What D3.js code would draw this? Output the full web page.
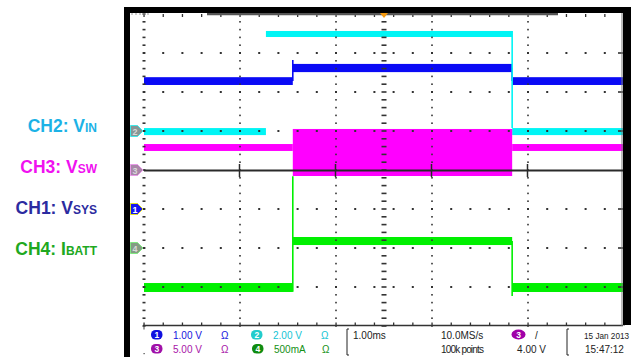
<!DOCTYPE html>
<html><head><meta charset="utf-8">
<script src="https://cdn.jsdelivr.net/npm/d3@7"></script>
<style>html,body{margin:0;padding:0;background:#fff;overflow:hidden}</style>
</head><body>
<svg id="c" width="631" height="357"></svg>
<script>
// ---------------- DATA ----------------
const channelIds = ["1", "2", "3", "4"];
const channelLabels = [["CH1: V", "SYS"], ["CH2: V", "IN"], ["CH3: V", "SW"], ["CH4: I", "BATT"]];
const scalePerDiv = [1.0, 2.0, 5.0, 0.5];      // V/div (CH4: A/div)
const positionDiv = [-1, 1, 0, -2];            // ground marker position in divisions
const scaleText = ["1.00 V", "2.00 V", "5.00 V", "500mA"];
const timeMs = [0, 10];                        // 1.00 ms/div, 10 divisions
// envelope segments: [tStart ms, tEnd ms, min, max]
const ch1Segments = [[0, 3.10, 3.18, 3.38], [3.10, 7.67, 3.51, 3.72], [7.67, 10, 3.18, 3.38]];
const ch2Segments = [[0, 2.54, -0.21, 0.15], [2.54, 7.67, 4.82, 5.13], [7.67, 10, -0.21, 0.15]];
const ch3Segments = [[0, 3.10, 2.44, 3.33], [3.10, 7.67, -0.77, 5.26], [7.67, 10, 2.44, 3.33]];
const ch4Segments = [[0, 3.10, -0.564, -0.449], [3.10, 7.67, 0.038, 0.141], [7.67, 10, -0.564, -0.449]];
// transition edges: [t ms, from, to]
const ch1Edges = [[3.10, 3.28, 3.82], [7.67, 3.62, 3.28]];
const ch2Edges = [[7.67, 5.13, 0.15]];
const ch3Edges = [];
const ch4Edges = [[3.10, -0.56, 0.92], [7.67, 0.09, -0.615]];
const timebaseText = "1.00ms";
const sampleRateText = "10.0MS/s";
const recordText = "100k points";
const triggerLevelText = "4.00 V";
const dateText = "15 Jan 2013";
const timeText = "15:47:12";

// ---------------- STYLE ----------------
const traceColors = ["#0a0af5", "#00f5f5", "#ff00ff", "#00f000"];
const labelColors = ["#2b2ba0", "#1cb2e6", "#f010f0", "#20a820"];
const infoColors = ["#1414dd", "#12c4d4", "#a814a8", "#149014"];
const badgeColors = ["#1010e0", "#22cccc", "#a010a8", "#108c10"];
const markerFill = ["#1616f0", "#869696", "#a886a8", "#849c84"];
const markerStroke = ["#e0e020", "#40e8e8", "#e898e8", "#80e880"];

const svg = d3.select("#c");
const x = d3.scaleLinear().domain(timeMs).range([144, 624]);
const y = d3.scaleLinear().domain([-4, 4]).range([326, 14]);
const yc = (i, v) => y(v / scalePerDiv[i] + positionDiv[i]);

// ---------------- TRACES ----------------
const segs = [ch1Segments, ch2Segments, ch3Segments, ch4Segments];
const edges = [ch1Edges, ch2Edges, ch3Edges, ch4Edges];
const traceG = svg.append("g");
[0, 1, 2, 3].forEach(i => {
  const g = traceG.append("g");
  g.selectAll("rect").data(segs[i]).join("rect")
    .attr("x", d => x(d[0])).attr("width", d => x(d[1]) - x(d[0]))
    .attr("y", d => yc(i, d[3])).attr("height", d => yc(i, d[2]) - yc(i, d[3]))
    .attr("fill", traceColors[i]);
  g.selectAll("line").data(edges[i]).join("line")
    .attr("x1", d => x(d[0])).attr("x2", d => x(d[0]))
    .attr("y1", d => yc(i, d[1])).attr("y2", d => yc(i, d[2]))
    .attr("stroke", traceColors[i]).attr("stroke-width", 1.6);
});

// ---------------- GRATICULE ----------------
const grid = svg.append("g").attr("fill", "#333");
const minorT = d3.range(0, 10.001, 0.4);
const minorD = d3.range(-4, 4.001, 0.2);
[-3, -2, -1, 1, 2, 3].forEach(r => {
  grid.selectAll(null).data(minorT).join("rect")
    .attr("x", t => x(t) - 1).attr("y", y(r) - 1).attr("width", 2).attr("height", 2);
});
[0, 2, 4, 6, 8].forEach(c => {
  grid.selectAll(null).data(minorD).join("rect")
    .attr("x", x(c) - (c === 0 ? 1.5 : 0.8)).attr("y", d => y(d) - 0.8)
    .attr("width", c === 0 ? 3 : 1.6).attr("height", 1.6);
});
// centre vertical axis dashes
grid.selectAll(null).data(minorD).join("rect")
  .attr("x", x(5) - 2.5).attr("y", d => y(d) - 0.8).attr("width", 5).attr("height", 1.6);
// top edge ticks
grid.selectAll(null).data(minorT).join("rect")
  .attr("x", t => x(t) - 0.6).attr("y", 14).attr("width", 1.3).attr("height", 3);
// bottom edge
svg.append("line").attr("x1", 143).attr("x2", 623).attr("y1", y(-4) - 0.5).attr("y2", y(-4) - 0.5)
  .attr("stroke", "#333").attr("stroke-width", 1.5);
grid.selectAll(null).data(minorT).join("rect")
  .attr("x", t => x(t) - 0.6).attr("y", y(-4) - 3.5).attr("width", 1.3).attr("height", 3);
// right edge
svg.append("line").attr("x1", 622).attr("x2", 622).attr("y1", 13).attr("y2", 326)
  .attr("stroke", "#777").attr("stroke-width", 1);
grid.selectAll(null).data([-3, -2, -1, 1, 2, 3]).join("rect")
  .attr("x", 618).attr("y", d => y(d) - 0.8).attr("width", 5).attr("height", 1.6);
// centre horizontal line
svg.append("line").attr("x1", 144).attr("x2", 623).attr("y1", y(0) + 0.5).attr("y2", y(0) + 0.5)
  .attr("stroke", "#2a2a2a").attr("stroke-width", 2);
svg.append("g").selectAll("line").data([2, 4, 6, 8]).join("line")
  .attr("x1", d => x(d) - 0.5).attr("x2", d => x(d) - 0.5).attr("y1", y(0) - 6).attr("y2", y(0) + 7)
  .attr("stroke", "#2a2a2a").attr("stroke-width", 1.5);

// record bar at top
svg.append("line").attr("x1", 207).attr("x2", 558).attr("y1", 14).attr("y2", 14)
  .attr("stroke", "#555").attr("stroke-width", 2.5);
svg.append("line").attr("x1", 131).attr("x2", 150).attr("y1", 14).attr("y2", 14)
  .attr("stroke", "#999").attr("stroke-width", 1.2).attr("stroke-dasharray", "2,2");
// trigger position marker
svg.append("path").attr("d", `M${x(5) - 4},13 L${x(5) + 4},13 L${x(5)},18 Z`).attr("fill", "#f59a10");

// ---------------- FRAME ----------------
svg.append("rect").attr("x", 124).attr("y", 7).attr("width", 507).attr("height", 6).attr("fill", "#000");
svg.append("rect").attr("x", 124).attr("y", 7).attr("width", 6).attr("height", 350).attr("fill", "#000");
svg.append("rect").attr("x", 623).attr("y", 7).attr("width", 8).attr("height", 318).attr("fill", "#000");

// ---------------- CHANNEL MARKERS ----------------
const mk = svg.append("g");
[0, 1, 2, 3].forEach(i => {
  const cy = yc(i, 0);
  mk.append("path")
    .attr("d", `M130.5,${cy - 5.5} L137.5,${cy - 5.5} L143,${cy} L137.5,${cy + 5.5} L130.5,${cy + 5.5} Z`)
    .attr("fill", markerFill[i]).attr("stroke", markerStroke[i]).attr("stroke-width", 1);
  mk.append("text").attr("x", 135).attr("y", cy + 3.5).attr("text-anchor", "middle")
    .attr("font-family", "Liberation Sans, Arial, sans-serif").attr("font-size", 9).attr("font-weight", "bold")
    .attr("fill", i === 0 ? "#ffffff" : "#d8d8d8").text(channelIds[i]);
});

// ---------------- LEFT LABELS ----------------
const labelOrder = [1, 2, 0, 3];
const labelBase = [132, 173, 214, 255];
labelOrder.forEach((ci, k) => {
  const t = svg.append("text").attr("x", 97).attr("y", labelBase[k]).attr("text-anchor", "end")
    .attr("font-family", "Liberation Sans, Arial, sans-serif").attr("font-weight", "bold")
    .attr("fill", labelColors[ci]);
  t.append("tspan").attr("font-size", 17.5).text(channelLabels[ci][0]);
  t.append("tspan").attr("font-size", 12).text(channelLabels[ci][1]);
});

// ---------------- BOTTOM INFO ----------------
const info = svg.append("g").attr("font-family", "Liberation Sans, Arial, sans-serif").attr("font-size", 10);
const rows = [339, 353];
const badgePos = [[151, 0], [251, 0], [151, 1], [252, 1]];
[0, 1, 2, 3].forEach(i => {
  const [bx, r] = badgePos[i];
  info.append("rect").attr("x", bx).attr("y", rows[r] - 9).attr("width", 11.5).attr("height", 9.5)
    .attr("rx", 4.5).attr("fill", badgeColors[i]);
  info.append("text").attr("x", bx + 5.75).attr("y", rows[r] - 1).attr("text-anchor", "middle")
    .attr("font-size", 8.5).attr("font-weight", "bold").attr("fill", "#fff").text(channelIds[i]);
  info.append("text").attr("x", bx + 22).attr("y", rows[r]).attr("fill", infoColors[i]).text(scaleText[i]);
  info.append("text").attr("x", bx + 70).attr("y", rows[r]).attr("fill", infoColors[i]).text("Ω");
});
const brk = x => `M${x + 2},329 L${x},329 L${x},355 L${x + 2},355`;
info.append("path").attr("d", brk(347)).attr("fill", "none").attr("stroke", "#222").attr("stroke-width", 1);
info.append("path").attr("d", brk(567)).attr("fill", "none").attr("stroke", "#222").attr("stroke-width", 1);
info.append("rect").attr("x", 143.5).attr("y", 327).attr("width", 1).attr("height", 2.5).attr("fill", "#444");
info.append("rect").attr("x", 143.5).attr("y", 353).attr("width", 1.2).attr("height", 1.2).attr("fill", "#444");
info.append("text").attr("x", 353).attr("y", rows[0]).attr("fill", "#222").text(timebaseText);
info.append("text").attr("x", 441).attr("y", rows[0]).attr("fill", "#222").text(sampleRateText);
info.append("text").attr("x", 441).attr("y", rows[1]).attr("fill", "#222").attr("textLength", 43).text(recordText);
info.append("ellipse").attr("cx", 518.5).attr("cy", rows[0] - 4.5).attr("rx", 7).attr("ry", 5).attr("fill", "#a000a8");
info.append("text").attr("x", 518.5).attr("y", rows[0] - 1).attr("text-anchor", "middle")
  .attr("font-size", 8.5).attr("font-weight", "bold").attr("fill", "#fff").text(channelIds[2]);
info.append("text").attr("x", 535).attr("y", rows[0]).attr("fill", "#222").text("/");
info.append("text").attr("x", 546).attr("y", rows[1]).attr("text-anchor", "end").attr("fill", "#222").text(triggerLevelText);
info.append("text").attr("x", 584).attr("y", rows[0]).attr("fill", "#222").attr("font-size", 8.2).text(dateText);
info.append("text").attr("x", 585).attr("y", rows[1]).attr("fill", "#222").text(timeText);
</script>
</body></html>
